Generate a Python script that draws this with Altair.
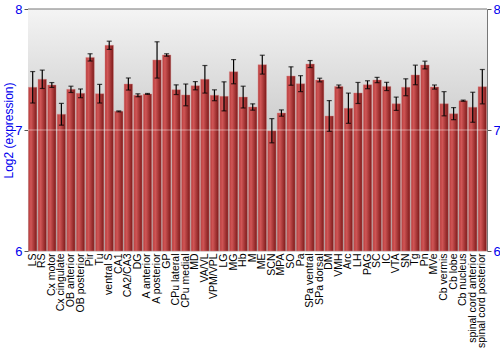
import altair as alt
import pandas as pd

regions = ["LS", "RS", "Cx motor", "Cx cingulate", "OB anterior", "OB posterior", "Pir", "Tu",
           "ventral S", "CA1", "CA2/CA3", "DG", "A anterior", "A posterior", "GP", "CPu lateral",
           "CPu medial", "MD", "VA/VL", "VPM/VPL", "LG", "MG", "Hb", "M", "ME", "SCN", "MPA",
           "SO", "Pa", "SPa ventral", "SPa dorsal", "DM", "VMH", "Arc", "LH", "PAG", "SC", "IC",
           "VTA", "SN", "Tg", "Pn", "MVe", "Cb vermis", "Cb lobe", "Cb nucleus",
           "spinal cord anterior", "spinal cord posterior"]
values = [7.353, 7.419, 7.372, 7.130, 7.336, 7.303, 7.600, 7.300,
          7.700, 7.154, 7.380, 7.287, 7.298, 7.579, 7.620, 7.333,
          7.290, 7.366, 7.419, 7.287, 7.278, 7.482, 7.272, 7.190, 7.540, 6.994, 7.140,
          7.446, 7.383, 7.545, 7.413, 7.116, 7.360, 7.180, 7.306, 7.374, 7.413, 7.360,
          7.217, 7.353, 7.455, 7.537, 7.355, 7.217, 7.135, 7.242,
          7.188, 7.358]
errors = [0.130, 0.076, 0.020, 0.090, 0.026, 0.036, 0.030, 0.077,
          0.034, 0.004, 0.050, 0.012, 0.004, 0.150, 0.010, 0.040,
          0.090, 0.034, 0.114, 0.045, 0.120, 0.100, 0.090, 0.026, 0.078, 0.100, 0.026,
          0.076, 0.066, 0.029, 0.015, 0.127, 0.012, 0.125, 0.087, 0.033, 0.022, 0.034,
          0.055, 0.070, 0.081, 0.032, 0.017, 0.100, 0.050, 0.005,
          0.124, 0.142]
y_ticks = [6, 7, 8]

df = pd.DataFrame({"region": regions, "value": values, "err": errors})
df["lo"] = df["value"] - df["err"]
df["hi"] = df["value"] + df["err"]
df["base"] = 6.0

W, H = 459, 242
blue = "#0000ee"
FONT = "Liberation Sans"

xenc = alt.X("region:N", sort=regions, scale=alt.Scale(paddingInner=0.12, paddingOuter=0.05),
             axis=alt.Axis(title=None, labelAngle=-90, labelAlign="right", labelBaseline="middle",
                           labelFont=FONT, labelFontSize=10.5, labelColor="#000000",
                           ticks=False, domain=False, labelPadding=2, labelOverlap=False,
                           labelLimit=200))
yscale = alt.Scale(domain=[6, 8], zero=False, nice=False)

bg = alt.Chart(pd.DataFrame({"a": [0]})).mark_rect(
    color=alt.Gradient(gradient="linear", x1=0, x2=0, y1=0, y2=1,
                       stops=[alt.GradientStop(offset=0, color="#f4f4f4"),
                              alt.GradientStop(offset=1, color="#a4a4a4")])
).encode(x=alt.value(0), x2=alt.value(W), y=alt.value(0), y2=alt.value(H))

bars = alt.Chart(df).mark_bar(
    color=alt.Gradient(gradient="linear", x1=0, x2=1, y1=0, y2=0,
                       stops=[alt.GradientStop(offset=0, color="#b83a3a"),
                              alt.GradientStop(offset=0.3, color="#d05656"),
                              alt.GradientStop(offset=1, color="#7c1818")]),
    stroke="#d88a8a", strokeWidth=0.6, strokeOpacity=0.7
).encode(
    x=xenc,
    y=alt.Y("value:Q", scale=yscale,
            axis=alt.Axis(title="Log2 (expression)", titleColor=blue, titleFont=FONT,
                          titleFontSize=12, titleFontWeight="normal",
                          titleX=-20, titleY=H / 2, titleAngle=270, titleAlign="center",
                          titleBaseline="middle",
                          values=y_ticks, labelExpr="format(datum.value, 'd')",
                          labelOverlap=False, labelFlush=False, labelBound=False,
                          labelColor=blue, labelFont=FONT,
                          labelFontSize=13, grid=False, domainColor="#777777", tickColor="#555555",
                          tickSize=4, labelPadding=2)),
    y2="base:Q"
)

grid = alt.Chart(pd.DataFrame({"g": [7.0]})).mark_rule(color="#ffffff", opacity=0.45, strokeWidth=1).encode(
    y=alt.Y("g:Q", scale=yscale)
)

errs = alt.Chart(df).mark_rule(color="#000000", strokeWidth=1.2).encode(
    x=alt.X("region:N", sort=regions), y=alt.Y("lo:Q", scale=yscale), y2="hi:Q"
)
caps_lo = alt.Chart(df).mark_tick(color="#000000", thickness=1.2, size=5).encode(
    x=alt.X("region:N", sort=regions), y=alt.Y("lo:Q", scale=yscale)
)
caps_hi = alt.Chart(df).mark_tick(color="#000000", thickness=1.2, size=5).encode(
    x=alt.X("region:N", sort=regions), y=alt.Y("hi:Q", scale=yscale)
)

top = alt.Chart(pd.DataFrame({"a": [0]})).mark_rule(color="#777777", strokeWidth=1).encode(
    x=alt.value(0), x2=alt.value(W), y=alt.value(0)
)

main = alt.layer(bg, bars, grid, errs, caps_lo, caps_hi, top)

right = alt.Chart(pd.DataFrame({"g": [6.0, 8.0]})).mark_point(opacity=0).encode(
    y=alt.Y("g:Q", scale=yscale,
            axis=alt.Axis(orient="right", title=None, values=y_ticks,
                          labelExpr="format(datum.value, 'd')",
                          labelOverlap=False, labelFlush=False, labelBound=False,
                          labelColor=blue, labelFont=FONT, labelFontSize=13, grid=False,
                          domainColor="#777777", tickColor="#555555", tickSize=4, labelPadding=2))
)

chart = alt.layer(main, right).resolve_scale(y="independent").properties(
    width=W, height=H, autosize="none",
    padding={"left": 28, "top": 9, "right": 13, "bottom": 99}
).configure_view(strokeWidth=0).configure(background="#ffffff")

chart.save("out.html", embed_options={"renderer": "svg", "actions": False})
